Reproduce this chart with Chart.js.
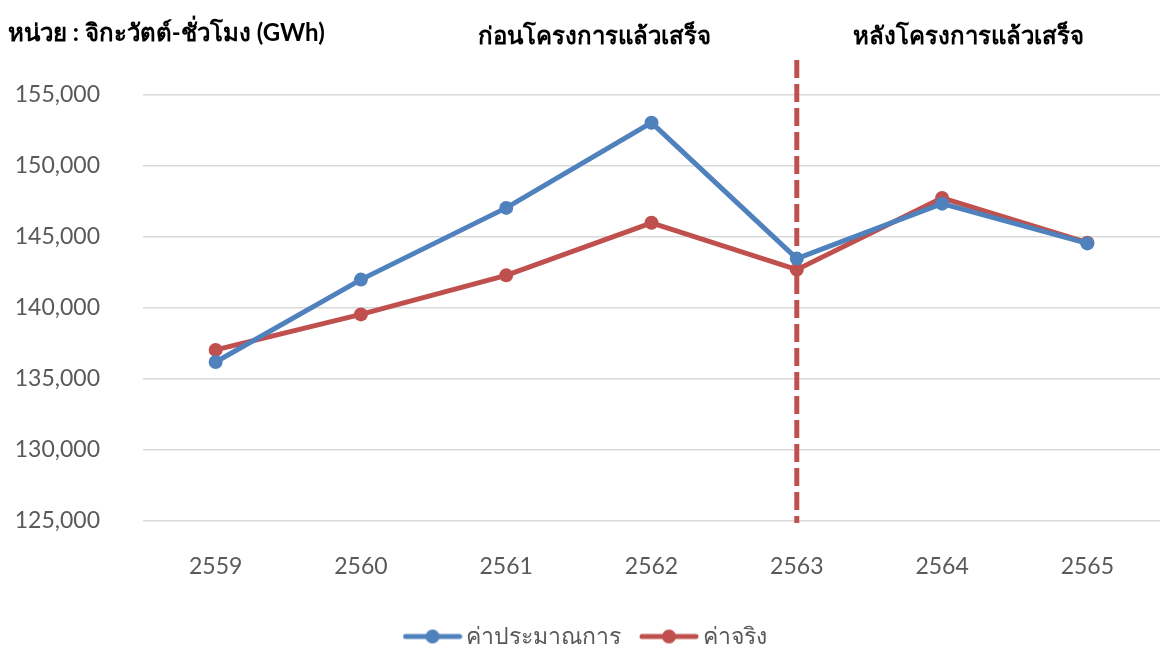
<!DOCTYPE html>
<html lang="th">
<head>
    <meta charset="UTF-8">
    <title>ค่าประมาณการ และ ค่าจริง</title>
    <script src="https://cdn.jsdelivr.net/npm/chart.js"></script>
    <style>
        html, body { margin: 0; padding: 0; background: #fff; overflow: hidden; }
        #wrap { width: 1167px; height: 648px; }
        #grafica { display: block; }
    </style>
</head>
<body>
    <div id="wrap"><canvas id="grafica"></canvas></div>
    <script>
        // ข้อมูล
        const years = ['2559', '2560', '2561', '2562', '2563', '2564', '2565'];
        const estimate = [136200, 142000, 147050, 153050, 143480, 147350, 144550];
        const actual = [137050, 139550, 142300, 146000, 142700, 147750, 144600];
        const yTicks = [125000, 130000, 135000, 140000, 145000, 150000, 155000];
        const splitYear = '2563';

        const blue = '#4F81BD';
        const red = '#C0504D';
        const grey = '#595959';
        const FONT = "Lato, 'Noto Sans', 'DejaVu Sans', sans-serif";

        // ไอคอนในคำอธิบาย: เส้น + จุด
        function legendIcon(color) {
            const c = document.createElement('canvas');
            c.width = 60; c.height = 18;
            const g = c.getContext('2d');
            g.strokeStyle = color;
            g.lineWidth = 5;
            g.lineCap = 'round';
            g.beginPath(); g.moveTo(3, 9); g.lineTo(57, 9); g.stroke();
            g.fillStyle = color;
            g.beginPath(); g.arc(30, 9, 7, 0, Math.PI * 2); g.fill();
            return c;
        }

        const overlay = {
            id: 'overlay',
            beforeDatasetsDraw(chart) {
                const { ctx, chartArea, scales } = chart;
                const x = scales.x.getPixelForValue(years.indexOf(splitYear));
                ctx.save();
                ctx.strokeStyle = red;
                ctx.lineWidth = 5;
                ctx.setLineDash([18, 6]);
                ctx.beginPath();
                ctx.moveTo(x, 60);
                ctx.lineTo(x, chartArea.bottom + 2);
                ctx.stroke();
                ctx.restore();
            },
            afterDraw(chart) {
                const { ctx } = chart;
                ctx.save();
                ctx.fillStyle = '#000';
                ctx.font = "bold 24px " + FONT;
                ctx.textBaseline = 'middle';
                ctx.textAlign = 'left';
                ctx.fillText('หน่วย : จิกะวัตต์-ชั่วโมง (GWh)', 8, 33);
                ctx.textAlign = 'center';
                ctx.fillText('ก่อนโครงการแล้วเสร็จ', 594, 36);
                ctx.fillText('หลังโครงการแล้วเสร็จ', 968, 36);
                ctx.restore();
            }
        };

        new Chart(document.getElementById('grafica').getContext('2d'), {
            type: 'line',
            data: {
                labels: years,
                datasets: [{
                    label: 'ค่าประมาณการ',
                    data: estimate,
                    borderColor: blue,
                    backgroundColor: blue,
                    borderWidth: 5,
                    pointRadius: 7,
                    pointHoverRadius: 7,
                    pointBorderWidth: 0,
                    tension: 0
                }, {
                    label: 'ค่าจริง',
                    data: actual,
                    borderColor: red,
                    backgroundColor: red,
                    borderWidth: 5,
                    pointRadius: 7,
                    pointHoverRadius: 7,
                    pointBorderWidth: 0,
                    tension: 0
                }]
            },
            options: {
                responsive: true,
                maintainAspectRatio: false,
                animation: false,
                layout: { padding: { top: 95, left: 10, right: 0, bottom: -10 } },
                plugins: {
                    tooltip: { enabled: false },
                    legend: {
                        position: 'bottom',
                        labels: {
                            usePointStyle: true,
                            pointStyleWidth: 44,
                            padding: 26,
                            color: grey,
                            font: { family: FONT, size: 23 },
                            generateLabels(chart) {
                                return chart.data.datasets.map((ds, i) => ({
                                    text: ds.label,
                                    pointStyle: legendIcon(ds.borderColor),
                                    fillStyle: ds.borderColor,
                                    strokeStyle: ds.borderColor,
                                    lineWidth: 0,
                                    fontColor: grey,
                                    hidden: false,
                                    datasetIndex: i
                                }));
                            }
                        }
                    }
                },
                scales: {
                    x: {
                        offset: true,
                        afterFit(axis) {
                            axis.height = 78;
                            axis.paddingLeft = 0;
                            axis.paddingRight = 0;
                        },
                        grid: { display: false, drawTicks: false },
                        border: { display: false },
                        ticks: {
                            color: grey,
                            padding: 32,
                            font: { family: FONT, size: 23 }
                        }
                    },
                    y: {
                        min: yTicks[0],
                        max: yTicks[yTicks.length - 1],
                        afterBuildTicks(axis) {
                            axis.ticks = yTicks.map(v => ({ value: v }));
                        },
                        afterFit(axis) {
                            axis.width = 133;
                        },
                        grid: { color: '#D9D9D9', lineWidth: 1.5, drawTicks: false },
                        border: { display: false },
                        ticks: {
                            color: grey,
                            padding: 43,
                            font: { family: FONT, size: 23 },
                            callback: v => v.toLocaleString('en-US')
                        }
                    }
                }
            },
            plugins: [overlay]
        });
    </script>
</body>
</html>
